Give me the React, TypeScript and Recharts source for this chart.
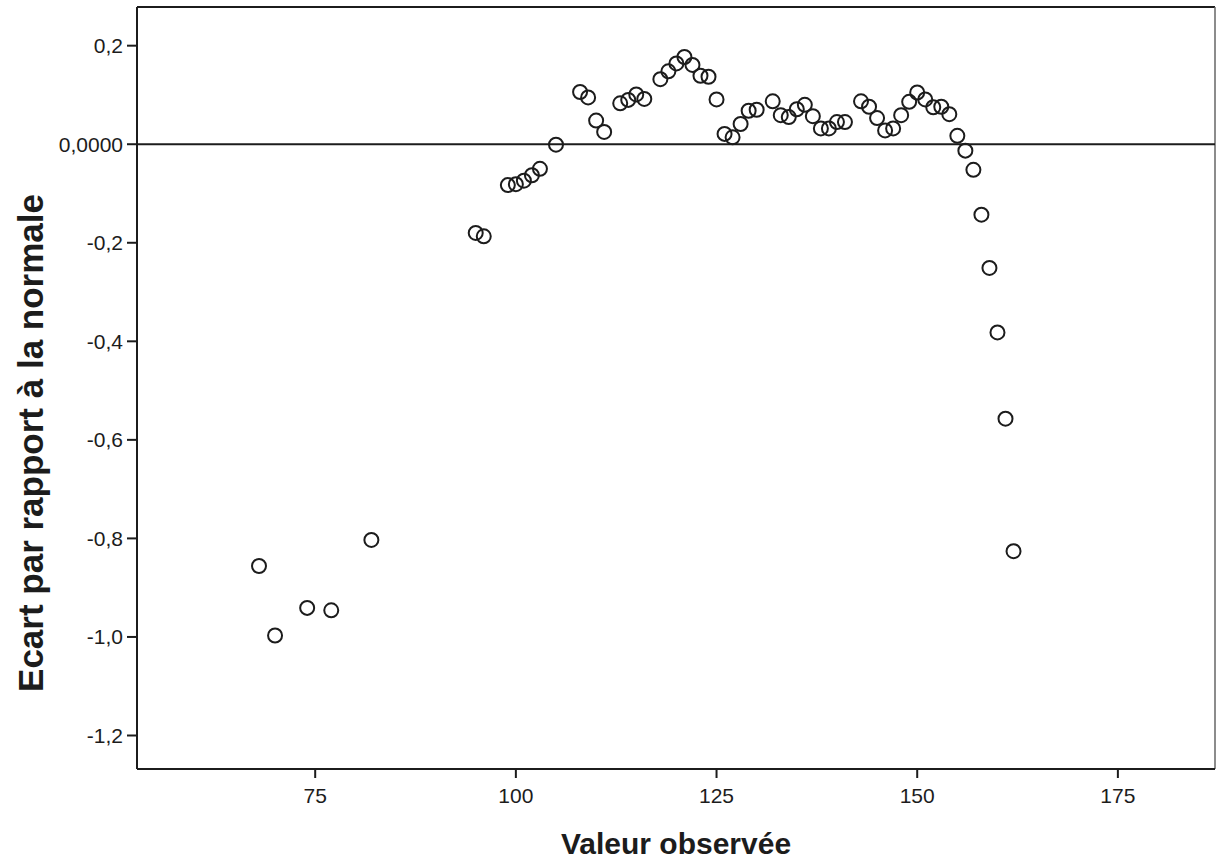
import { ScatterChart, Scatter, XAxis, YAxis, ReferenceLine } from 'recharts';

// valeurs
const observed = [
  68, 70, 74, 77, 82, 95, 96, 99, 100, 101, 102, 103, 105, 108, 109, 110, 111,
  113, 114, 115, 116, 118, 119, 120, 121, 122, 123, 124, 125, 126, 127, 128,
  129, 130, 132, 133, 134, 135, 136, 137, 138, 139, 140, 141, 143, 144, 145,
  146, 147, 148, 149, 150, 151, 152, 153, 154, 155, 156, 157, 158, 159, 160,
  161, 162,
];
const deviation = [
  -0.856, -0.997, -0.941, -0.946, -0.803, -0.18, -0.187, -0.083, -0.081, -0.074,
  -0.063, -0.05, -0.001, 0.106, 0.095, 0.048, 0.025, 0.083, 0.09, 0.101, 0.092,
  0.132, 0.148, 0.164, 0.177, 0.161, 0.139, 0.137, 0.091, 0.021, 0.014, 0.041,
  0.068, 0.07, 0.087, 0.059, 0.055, 0.071, 0.08, 0.057, 0.032, 0.032, 0.045,
  0.045, 0.087, 0.076, 0.053, 0.028, 0.032, 0.059, 0.086, 0.105, 0.091, 0.075,
  0.076, 0.061, 0.017, -0.013, -0.052, -0.143, -0.251, -0.382, -0.557, -0.826,
];
const xTicks = [75, 100, 125, 150, 175];
const yTicks = [-1.2, -1.0, -0.8, -0.6, -0.4, -0.2, 0, 0.2];

const points = observed.map((x, i) => ({ x, y: deviation[i] }));

const ink = '#1c1c1c';
const font = '"Liberation Sans", Arial, sans-serif';
const xDomain = [52.8, 187.1];
const yDomain = [-1.268, 0.2785];

const fmtY = (v: number) => (v === 0 ? '0,0000' : v.toFixed(1).replace('.', ','));

const Ring = (props: any) => (
  <circle cx={props.cx} cy={props.cy} r={7} fill="none" stroke={ink} strokeWidth={2} />
);

const YTitle = () => (
  <text
    x={30}
    y={443}
    transform="rotate(-90, 30, 443)"
    textAnchor="middle"
    dominantBaseline="central"
    fontSize={35}
    fontWeight="bold"
    fontFamily={font}
    fill={ink}
  >
    Ecart par rapport à la normale
  </text>
);

export default function App() {
  return (
    <div style={{ position: 'absolute', left: 0, top: 0, background: '#fff' }}>
      <ScatterChart
        width={1227}
        height={864}
        margin={{ top: 7, right: 12, bottom: 0, left: 0 }}
        style={{ fontFamily: font }}
      >
        <XAxis
          dataKey="x"
          type="number"
          domain={xDomain}
          ticks={xTicks}
          height={95}
          tickSize={9}
          tickMargin={10}
          axisLine={{ stroke: ink, strokeWidth: 2 }}
          tickLine={{ stroke: ink, strokeWidth: 2 }}
          tick={{ fill: ink, fontSize: 21 }}
          label={{
            value: 'Valeur observée',
            position: 'insideBottom',
            offset: 10,
            fill: ink,
            fontSize: 30,
            fontWeight: 'bold',
          }}
        />
        <YAxis
          dataKey="y"
          type="number"
          domain={yDomain}
          ticks={yTicks}
          width={137}
          tickSize={10}
          tickMargin={4}
          tickFormatter={fmtY}
          axisLine={{ stroke: ink, strokeWidth: 2 }}
          tickLine={{ stroke: ink, strokeWidth: 2 }}
          tick={{ fill: ink, fontSize: 21 }}
          label={<YTitle />}
        />
        {/* cadre haut et droit */}
        <ReferenceLine y={yDomain[1]} stroke={ink} strokeWidth={2} />
        <ReferenceLine x={xDomain[1]} stroke="#666" strokeWidth={1.5} />
        <ReferenceLine y={0} stroke={ink} strokeWidth={2} />
        <Scatter data={points} shape={Ring} isAnimationActive={false} />
      </ScatterChart>
    </div>
  );
}
